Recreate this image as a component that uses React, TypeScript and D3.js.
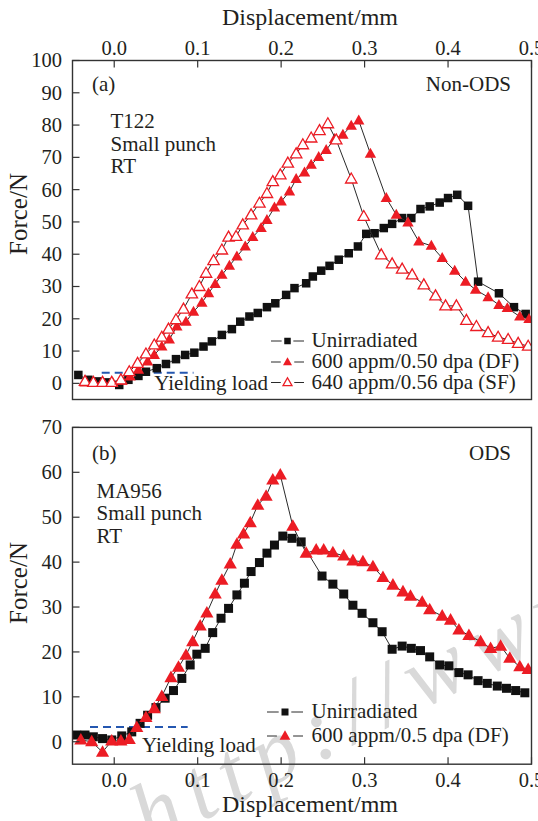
import React from 'react';
import * as d3 from 'd3';

// ---------- data ----------
const xTickValues = [0, 0.1, 0.2, 0.3, 0.4, 0.5];
const yTicksA = [0, 10, 20, 30, 40, 50, 60, 70, 80, 90, 100];
const yTicksB = [0, 10, 20, 30, 40, 50, 60, 70];

// Panel (a) Non-ODS T122
const aUnirrDisp = [-0.043,-0.031,-0.019,-0.0075,0.006,0.017,0.029,0.038,0.051,0.062,0.074,0.085,0.096,0.107,0.117,0.129,0.141,0.151,0.162,0.172,0.183,0.193,0.206,0.216,0.230,0.238,0.248,0.258,0.269,0.281,0.292,0.302,0.312,0.323,0.333,0.345,0.356,0.367,0.378,0.390,0.400,0.411,0.424,0.436,0.461,0.479,0.493];
const aUnirrForce = [2.6,1.1,0.6,0.3,-0.5,1.1,2.3,3.6,4.7,6.0,7.5,8.8,9.5,11.4,13,15,16.8,19.1,20.7,21.8,23.6,24.8,27.4,29.5,31,33.1,34.9,36.4,38.3,40.3,42.4,46.3,46.5,48.1,49.4,51.2,51.2,54,54.8,56,57.4,58.4,55,31.5,27.9,23.6,21.5];

const aDFDisp = [-0.035,-0.024,-0.013,-0.002,0.009,0.019,0.029,0.040,0.048,0.057,0.066,0.075,0.086,0.095,0.105,0.113,0.121,0.129,0.138,0.147,0.157,0.166,0.176,0.183,0.192,0.200,0.210,0.218,0.228,0.236,0.245,0.254,0.264,0.274,0.284,0.293,0.307,0.326,0.338,0.352,0.365,0.380,0.393,0.408,0.421,0.433,0.448,0.461,0.471,0.486,0.497];
const aDFForce = [0.3,0.2,0.2,0.3,0.8,2.1,4.2,6.8,8.8,11.4,13.6,17.6,19.1,22.2,25,27.9,30.8,33.6,36.4,39.3,42.4,45.3,48.1,50.6,54.5,56.3,59.4,63.3,65.3,67.7,70.1,72.3,75.7,77,79.8,81.4,71.1,57.4,52.2,49.8,43.9,42.6,38.8,34.9,31.5,29,26.7,24.3,23.3,20.7,19.9];

const aSFDisp = [-0.035,-0.025,-0.014,-0.003,0.008,0.018,0.028,0.038,0.048,0.057,0.065,0.074,0.083,0.093,0.102,0.110,0.119,0.129,0.137,0.146,0.154,0.164,0.174,0.183,0.190,0.199,0.208,0.218,0.226,0.236,0.246,0.256,0.266,0.284,0.299,0.320,0.333,0.345,0.357,0.371,0.385,0.397,0.410,0.422,0.434,0.448,0.460,0.472,0.484,0.496];
const aSFForce = [0.6,0.3,0.3,0.3,1.1,3.6,6.2,9.1,11.9,14.3,16.8,19.7,23,27.7,30,34.1,38,41.3,45.3,45.5,49.1,52.2,55.8,58.8,62.5,64.6,68.2,71.1,73.9,76,78.3,80.4,75.4,63.3,51.7,39.8,37,35.4,33.6,30.5,27.1,24,24,19.5,17.6,15.7,14.3,13.6,12.4,11.5];

// Panel (b) ODS MA956
const bUnirrDisp = [-0.045,-0.035,-0.025,-0.014,-0.003,0.009,0.021,0.031,0.040,0.050,0.061,0.071,0.081,0.091,0.099,0.109,0.118,0.128,0.137,0.147,0.156,0.164,0.174,0.183,0.192,0.202,0.213,0.224,0.249,0.262,0.275,0.286,0.297,0.310,0.321,0.333,0.345,0.356,0.367,0.378,0.390,0.401,0.413,0.424,0.436,0.447,0.459,0.470,0.481,0.492];
const bUnirrForce = [1.5,1.5,1.1,0.7,0.4,1.3,2.2,4.1,5.9,7.6,9.7,11.4,14.1,17.1,19.5,20.8,24.3,27.5,29.7,32.7,35.3,37.9,39.9,42,43.8,45.8,45.3,44.5,36.9,35.1,32.9,30.4,28.6,26.5,24.5,20.6,21.3,20.8,20.3,18.9,17.1,16.9,15.4,14.9,13.6,13,12.4,11.9,11.4,10.9];

const bDFDisp = [-0.040,-0.027,-0.014,-0.003,0.008,0.018,0.027,0.038,0.048,0.057,0.068,0.077,0.086,0.094,0.103,0.111,0.121,0.129,0.139,0.147,0.155,0.163,0.172,0.182,0.190,0.199,0.214,0.230,0.242,0.251,0.262,0.275,0.286,0.298,0.310,0.322,0.334,0.346,0.355,0.369,0.378,0.393,0.403,0.413,0.425,0.439,0.451,0.463,0.474,0.486,0.496];
const bDFForce = [0.4,0,-2.3,0.2,0.2,0.5,3.2,5.4,7.4,10.1,14.3,16.6,19.3,22.3,25.8,28.7,32.9,36,39.6,44,46.3,48.8,52.7,54.7,58.3,59.4,48,42,42.7,42.7,42.1,41.4,40.3,40.1,39,36.6,34.9,33.4,32.4,31.1,29.4,28,27.1,24.9,23.7,22.3,20.8,21.3,18.6,16.7,16.1];

const yieldA = { x0: -0.015, x1: 0.095, f: 3.3 };
const yieldB = { x0: -0.029, x1: 0.088, f: 3.3 };

const legendA = ['Unirradiated', '600 appm/0.50 dpa (DF)', '640 appm/0.56 dpa (SF)'];
const legendB = ['Unirradiated', '600 appm/0.5 dpa (DF)'];

// ---------- layout ----------
const W = 538, H = 821;
const FONT = '"Liberation Serif", "Times New Roman", serif';
const RED = '#ec1c24';
const TXT = '#231f20';
const LINE = '#2a2a2a';

const x = d3.scaleLinear().domain([-0.05, 0.5]).range([72.5, 531.5]);
const ya = d3.scaleLinear().domain([-5, 100]).range([399.5, 60.5]);
const yb = d3.scaleLinear().domain([-5, 70]).range([764.2, 427.4]);
const fmtX = d3.format('.1f');

type Kind = 'square' | 'triFill' | 'triOpen';

function marker(kind: Kind, cx: number, cy: number, s: number, key: any) {
  if (kind === 'square') {
    return <rect key={key} x={cx - s / 2} y={cy - s / 2} width={s} height={s} fill="#111" />;
  }
  const w = s * 1.2, h = s * 1.05;
  const d = `M${cx},${cy - h * 0.6}L${cx + w / 2},${cy + h * 0.4}L${cx - w / 2},${cy + h * 0.4}Z`;
  if (kind === 'triFill') return <path key={key} d={d} fill={RED} />;
  return <path key={key} d={d} fill="#fff" stroke={RED} strokeWidth={1.3} />;
}

function Series({ xs, ys, y, kind, size }: { xs: number[]; ys: number[]; y: any; kind: Kind; size: number }) {
  const pts = xs.map((d, i) => [x(d), y(ys[i])] as [number, number]);
  const line = d3.line()(pts) || '';
  return (
    <g>
      <path d={line} fill="none" stroke={LINE} strokeWidth={1} />
      {pts.map((p, i) => marker(kind, p[0], p[1], size, i))}
    </g>
  );
}

function Frame({ y, top, bottom, ticks, xAxis }: { y: any; top: number; bottom: number; ticks: number[]; xAxis: 'top' | 'bottom' }) {
  const [x0, x1] = x.range();
  return (
    <g>
      <rect x={x0} y={top} width={x1 - x0} height={bottom - top} fill="none" stroke="#333" strokeWidth={1.4} />
      {ticks.map((t) => (
        <g key={t}>
          <line x1={x0} x2={x0 + 7} y1={y(t)} y2={y(t)} stroke="#333" strokeWidth={1.2} />
          <text x={62} y={y(t)} dy="0.34em" textAnchor="end" fontSize={20.5} fontFamily={FONT} fill={TXT}>{t}</text>
        </g>
      ))}
      {xTickValues.map((t) => (
        <g key={t}>
          {xAxis === 'top' ? (
            <line x1={x(t)} x2={x(t)} y1={top} y2={top + 7} stroke="#333" strokeWidth={1.2} />
          ) : (
            <line x1={x(t)} x2={x(t)} y1={bottom} y2={bottom - 7} stroke="#333" strokeWidth={1.2} />
          )}
          <text x={x(t)} y={xAxis === 'top' ? 55 : 787} textAnchor="middle" fontSize={20.5} fontFamily={FONT} fill={TXT}>{fmtX(t)}</text>
        </g>
      ))}
    </g>
  );
}

function LegendRow({ kind, label, x0, x1, tx, base, size }: { kind: Kind; label: string; x0: number; x1: number; tx: number; base: number; size: number }) {
  const cy = base - 6;
  const mid = (x0 + x1) / 2;
  const gap = size * 0.9;
  return (
    <g>
      <line x1={x0} x2={mid - gap} y1={cy} y2={cy} stroke={LINE} strokeWidth={1} />
      <line x1={mid + gap} x2={x1} y1={cy} y2={cy} stroke={LINE} strokeWidth={1} />
      {marker(kind, mid, cy, size, 'm')}
      <text x={tx} y={base} fontSize={21} fontFamily={FONT} fill={TXT}>{label}</text>
    </g>
  );
}

export default function App() {
  const [x0, x1] = x.range();
  return (
    <svg width={W} height={H} style={{ position: 'absolute', left: 0, top: 0, background: '#fff' }}>
      <defs>
        <clipPath id="clipA"><rect x={x0} y={60.5} width={x1 - x0} height={339} /></clipPath>
        <clipPath id="clipB"><rect x={x0} y={427.4} width={x1 - x0} height={336.8} /></clipPath>
      </defs>

      {/* watermark */}
      <text transform="translate(150,848) rotate(-27)" fontSize={90} fontStyle="italic" fontFamily={FONT}
        fill="#d9d9d9" letterSpacing={12}>http://www</text>

      {/* Panel (a) */}
      <text x={310} y={25} textAnchor="middle" fontSize={24} fontFamily={FONT} fill={TXT}>Displacement/mm</text>
      <text transform="translate(27,214) rotate(-90)" textAnchor="middle" fontSize={25} fontFamily={FONT} fill={TXT}>Force/N</text>
      <g clipPath="url(#clipA)">
        <line x1={x(yieldA.x0)} x2={x(yieldA.x1)} y1={ya(yieldA.f)} y2={ya(yieldA.f)} stroke="#2457b0" strokeWidth={2} strokeDasharray="8,5" />
        <Series xs={aUnirrDisp} ys={aUnirrForce} y={ya} kind="square" size={8.5} />
        <Series xs={aDFDisp} ys={aDFForce} y={ya} kind="triFill" size={9.5} />
        <Series xs={aSFDisp} ys={aSFForce} y={ya} kind="triOpen" size={9.5} />
      </g>
      <Frame y={ya} top={60.5} bottom={399.5} ticks={yTicksA} xAxis="top" />
      <text x={92} y={91} fontSize={21} fontFamily={FONT} fill={TXT}>(a)</text>
      <text x={511} y={91} textAnchor="end" fontSize={21} fontFamily={FONT} fill={TXT}>Non-ODS</text>
      <text x={110.5} y={128} fontSize={21} fontFamily={FONT} fill={TXT}>T122</text>
      <text x={110.5} y={151} fontSize={21} fontFamily={FONT} fill={TXT}>Small punch</text>
      <text x={110.5} y={173} fontSize={21} fontFamily={FONT} fill={TXT}>RT</text>
      <text x={268} y={390} textAnchor="end" fontSize={21} fontFamily={FONT} fill={TXT}>Yielding load</text>
      <LegendRow kind="square" label={legendA[0]} x0={271} x1={304} tx={311.5} base={347} size={6.5} />
      <LegendRow kind="triFill" label={legendA[1]} x0={271} x1={304} tx={311.5} base={368} size={7.5} />
      <LegendRow kind="triOpen" label={legendA[2]} x0={271} x1={304} tx={311.5} base={388.5} size={7.5} />

      {/* Panel (b) */}
      <text transform="translate(27,583) rotate(-90)" textAnchor="middle" fontSize={25} fontFamily={FONT} fill={TXT}>Force/N</text>
      <text x={310} y={812} textAnchor="middle" fontSize={24} fontFamily={FONT} fill={TXT}>Displacement/mm</text>
      <g clipPath="url(#clipB)">
        <line x1={x(yieldB.x0)} x2={x(yieldB.x1)} y1={yb(yieldB.f)} y2={yb(yieldB.f)} stroke="#2457b0" strokeWidth={2} strokeDasharray="8,5" />
        <Series xs={bUnirrDisp} ys={bUnirrForce} y={yb} kind="square" size={9} />
        <Series xs={bDFDisp} ys={bDFForce} y={yb} kind="triFill" size={11} />
      </g>
      <Frame y={yb} top={427.4} bottom={764.2} ticks={yTicksB} xAxis="bottom" />
      <text x={92} y={460} fontSize={21} fontFamily={FONT} fill={TXT}>(b)</text>
      <text x={511} y={460} textAnchor="end" fontSize={21} fontFamily={FONT} fill={TXT}>ODS</text>
      <text x={96.5} y={498} fontSize={21} fontFamily={FONT} fill={TXT}>MA956</text>
      <text x={96.5} y={520} fontSize={21} fontFamily={FONT} fill={TXT}>Small punch</text>
      <text x={96.5} y={543} fontSize={21} fontFamily={FONT} fill={TXT}>RT</text>
      <text x={142} y={752} fontSize={21} fontFamily={FONT} fill={TXT}>Yielding load</text>
      <LegendRow kind="square" label={legendB[0]} x0={267} x1={303} tx={311.5} base={718} size={7} />
      <LegendRow kind="triFill" label={legendB[1]} x0={267} x1={303} tx={311.5} base={742} size={9} />
    </svg>
  );
}
